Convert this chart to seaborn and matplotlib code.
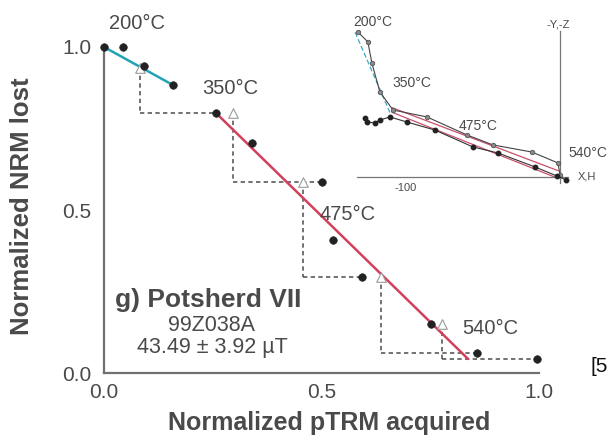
import numpy as np
import pandas as pd
import matplotlib
matplotlib.use("Agg")
import matplotlib.pyplot as plt
import seaborn as sns

# ---------------- data: Arai plot ----------------
ptrm = [0.0, 0.044, 0.092, 0.159, 0.257, 0.340, 0.501, 0.526, 0.593, 0.752, 0.857, 0.995]
nrm = [1.0, 1.0, 0.942, 0.883, 0.798, 0.706, 0.586, 0.408, 0.295, 0.150, 0.061, 0.043]

# pTRM checks: triangle x, level (top), bottom of drop, end of horizontal
check_x = [0.083, 0.297, 0.457, 0.637, 0.777]
check_top = [0.936, 0.798, 0.586, 0.295, 0.150]
check_bottom = [0.798, 0.586, 0.295, 0.060, 0.043]
check_end = [0.257, 0.501, 0.593, 0.857, 0.995]

# fitted segments
fit_low_x = [0.0, 0.159]
fit_low_y = [1.0, 0.883]
fit_high_x = [0.257, 0.837]
fit_high_y = [0.798, 0.043]

temp_labels = ["200°C", "350°C", "475°C", "540°C"]

# ---------------- data: Zijderveld inset ----------------
vert_x = [-131.2, -124.7, -122.1, -116.9, -108.4, -86.4, -60.4, -43.5, -18.2, -1.3, 0.0]
vert_y = [94.2, 87.7, 74.0, 55.2, 43.5, 39.0, 27.3, 20.8, 16.2, 9.1, 1.3]
horz_x = [-126.6, -125.3, -120.1, -116.9, -110.4, -99.4, -81.2, -56.5, -40.3, -16.2, -1.9, 3.9]
horz_y = [38.3, 35.7, 35.1, 37.0, 39.0, 35.7, 30.5, 19.5, 15.6, 6.5, 0.6, -1.9]
zfit_low_x = [-133.0, -110.0]
zfit_low_y = [94.0, 41.0]
zfit_v_x = [-109.0, -1.0]
zfit_v_y = [45.0, 4.0]
zfit_h_x = [-109.0, -1.0]
zfit_h_y = [42.0, -1.0]

sns.set_theme(style="white")
plt.rcParams['font.family'] = ['Liberation Sans', 'DejaVu Sans']

fig = plt.figure(figsize=(6.12, 4.40), dpi=100)
ax = fig.add_axes([104/612, 67/440, 435/612, 326/440])

grey_txt = "#4a4a4a"
dash_col = "#5a5a5a"

# staircase of pTRM checks
for xc, yt, yb, xe in zip(check_x, check_top, check_bottom, check_end):
    ax.plot([xc, xc], [yt, yb], color=dash_col, lw=1.2, ls=(0, (2.6, 2.0)), zorder=2, clip_on=False)
    ax.plot([xc, xe], [yb, yb], color=dash_col, lw=1.2, ls=(0, (2.6, 2.0)), zorder=2, clip_on=False)

# fit lines
sns.lineplot(x=fit_low_x, y=fit_low_y, ax=ax, color="#22a3b5", lw=1.8, zorder=3)
sns.lineplot(x=fit_high_x, y=fit_high_y, ax=ax, color="#d2405c", lw=1.8, zorder=3)

# checks (open triangles)
sns.scatterplot(x=check_x, y=check_top, ax=ax, marker="^", s=48, facecolor="white",
                edgecolor="#9a9a9a", linewidth=0.8, zorder=4, clip_on=False)
# data points
df = pd.DataFrame({"ptrm": ptrm, "nrm": nrm})
sns.scatterplot(data=df, x="ptrm", y="nrm", ax=ax, color="#222222", s=30,
                edgecolor="#222222", zorder=5, clip_on=False)

ax.set_xlim(0, 1)
ax.set_ylim(0, 1)
ax.set_xticks([0, 0.5, 1.0])
ax.set_yticks([0, 0.5, 1.0])
ax.set_xticklabels(["0.0", "0.5", "1.0"])
ax.set_yticklabels(["0.0", "0.5", "1.0"])
ax.tick_params(axis="both", length=0, labelsize=15, colors=grey_txt)
ax.tick_params(axis="x", pad=7)
ax.tick_params(axis="y", pad=9)
for s in ["top", "right"]:
    ax.spines[s].set_visible(False)
for s in ["left", "bottom"]:
    ax.spines[s].set_color("#707070")
    ax.spines[s].set_linewidth(1.6)
ax.set_xlabel("Normalized pTRM acquired", fontsize=18, fontweight="bold", color=grey_txt, va="center")
ax.set_ylabel("Normalized NRM lost", fontsize=18.5, fontweight="bold", color=grey_txt, va="center")
ax.xaxis.set_label_coords(0.518, -0.153)
ax.yaxis.set_label_coords(-0.1885, 0.512)

tpos = [(0.076, 1.073), (0.290, 0.874), (0.559, 0.485), (0.887, 0.135)]
for t, (tx, ty) in zip(temp_labels, tpos):
    ax.text(tx, ty, t, transform=ax.transAxes, ha="center", va="center", fontsize=14.5, color=grey_txt)

ax.text(0.025, 0.202, "g) Potsherd VII", transform=ax.transAxes, ha="left", va="baseline",
        fontsize=19, fontweight="bold", color=grey_txt)
ax.text(0.248, 0.147, "99Z038A", transform=ax.transAxes, ha="center", va="center", fontsize=15.5, color=grey_txt)
ax.text(0.248, 0.077, "43.49 ± 3.92 µT", transform=ax.transAxes, ha="center", va="center", fontsize=15.5, color=grey_txt)

fig.text(590/612, 1 - 366/440, "[5", ha="left", va="center", fontsize=15, color="#111111")

# ---------------- inset ----------------
axi = fig.add_axes([352/612, 1 - 189.3/440, 223.4/612, 166.3/440])
axi.set_facecolor("none")
axi.set_xlim(-135, 10)
axi.set_ylim(-8, 100)
axi.plot(zfit_low_x, zfit_low_y, color="#3aa8c8", lw=0.9, ls=(0, (4, 2)), zorder=2)
axi.plot(zfit_v_x, zfit_v_y, color="#c8506a", lw=0.9, zorder=2)
axi.plot(zfit_h_x, zfit_h_y, color="#c8506a", lw=0.9, zorder=2)
axi.plot(vert_x, vert_y, color="#444444", lw=0.8, marker="o", ms=3.2,
         mfc="#8a8a8a", mec="#555555", mew=0.6, zorder=3, clip_on=False)
axi.plot(horz_x, horz_y, color="#333333", lw=0.8, marker="o", ms=3.2,
         mfc="#222222", mec="#222222", zorder=3, clip_on=False)
for s in ["top", "right"]:
    axi.spines[s].set_visible(False)
axi.spines["left"].set_position(("data", 0))
axi.spines["bottom"].set_position(("data", 0))
axi.spines["left"].set_bounds(-4, 95)
axi.spines["bottom"].set_bounds(-132, 5)
for s in ["left", "bottom"]:
    axi.spines[s].set_color("#777777")
    axi.spines[s].set_linewidth(0.9)
axi.set_xticks([-100])
axi.set_xticklabels(["-100"])
axi.set_yticks([])
axi.tick_params(axis="x", direction="inout", length=5, width=0.8, color="#777777",
                labelsize=8, labelcolor=grey_txt, pad=2)
zpos = [(0.094, 1.006), (0.269, 0.639), (0.564, 0.381), (1.056, 0.218)]
for t, (tx, ty) in zip(temp_labels, zpos):
    axi.text(tx, ty, t, transform=axi.transAxes, ha="center", va="center", fontsize=10, color=grey_txt)
axi.text(0.922, 0.988, "-Y,-Z", transform=axi.transAxes, ha="center", va="center", fontsize=8, color=grey_txt)
axi.text(1.052, 0.074, "X,H", transform=axi.transAxes, ha="center", va="center", fontsize=8, color=grey_txt)

fig.savefig("out.png", dpi=100)
